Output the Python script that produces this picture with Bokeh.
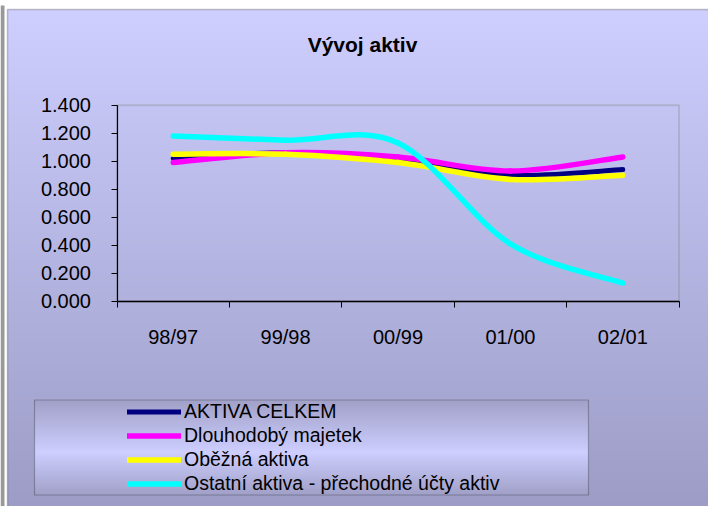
import numpy as np
from bokeh.plotting import figure
from bokeh.models import (Range1d, LinearAxis, FixedTicker, NumeralTickFormatter,
                          Legend, LegendItem, BoxAnnotation, Label)
from bokeh.embed import file_html
from bokeh.resources import INLINE

# ---------------- data ----------------
categories = ["98/97", "99/98", "00/99", "01/00", "02/01"]
series_names = ["AKTIVA CELKEM", "Dlouhodobý majetek", "Oběžná aktiva",
                "Ostatní aktiva - přechodné účty aktiv"]
aktiva_celkem = [1.02, 1.06, 1.01, 0.90, 0.94]
dlouhodoby_majetek = [0.99, 1.06, 1.03, 0.93, 1.03]
obezna_aktiva = [1.05, 1.05, 0.99, 0.87, 0.90]
ostatni_aktiva = [1.18, 1.15, 1.13, 0.41, 0.13]
y_ticks = [0.0, 0.2, 0.4, 0.6, 0.8, 1.0, 1.2, 1.4]
title_text = "Vývoj aktiv"

series_values = [aktiva_celkem, dlouhodoby_majetek, obezna_aktiva, ostatni_aktiva]
series_colors = ["#000080", "#FF00FF", "#FFFF00", "#00FFFF"]
series_widths = [5, 5.5, 5.5, 5.5]

# ---------------- layout (pixels) ----------------
W, H = 708, 506
PX_X = 112.4        # pixels per category
PX_Y = 140.0        # pixels per value unit
ORIGIN_X = 116.5    # px from left of category boundary 0
ORIGIN_Y = 300.7    # px from top of value 0

x_start = -ORIGIN_X / PX_X
x_end = x_start + W / PX_X
y_end = ORIGIN_Y / PX_Y
y_start = y_end - H / PX_Y


def fx(px):  # canvas x -> data x
    return x_start + px / PX_X


def fy(py):  # canvas y -> data y
    return y_end - py / PX_Y


p = figure(width=W, height=H, output_backend="svg", toolbar_location=None,
           x_range=Range1d(x_start, x_end), y_range=Range1d(y_start, y_end),
           x_axis_location=None, y_axis_location=None, min_border=0,
           outline_line_color=None, background_fill_color="white",
           border_fill_color="white")
p.xgrid.visible = False
p.ygrid.visible = False


def rgba_gradient(n, stops):
    """n rows (row 0 = bottom); stops: list of (t_from_top, (r,g,b))."""
    img = np.empty((n, 1), dtype=np.uint32)
    view = img.view(dtype=np.uint8).reshape((n, 1, 4))
    ts = np.array([s[0] for s in stops])
    cols = np.array([s[1] for s in stops], dtype=float)
    for r in range(n):
        t = 1.0 - r / (n - 1)
        for c in range(3):
            view[r, 0, c] = int(round(np.interp(t, ts, cols[:, c])))
        view[r, 0, 3] = 255
    return img


# chart-area background gradient
bg_left, bg_top = fx(7), fy(9)
bg = rgba_gradient(H - 9, [(0.0, (206, 206, 255)), (1.0, (156, 156, 198))])
p.image_rgba(image=[bg], x=bg_left, y=y_start, dw=x_end - bg_left,
             dh=bg_top - y_start, level="image")

# chart border (top / left) and sheet edge at the far left
p.add_layout(BoxAnnotation(left=bg_left, right=x_end + 1, bottom=y_start - 1, top=bg_top,
                           fill_color=None, line_color="#404040", line_width=1.5,
                           level="underlay"))
p.add_layout(BoxAnnotation(left=x_start, right=fx(4), bottom=y_start, top=fy(5),
                           fill_color="black", line_color=None, level="underlay"))

# plot area border
n_cat = len(categories)
p.add_layout(BoxAnnotation(left=0, right=n_cat, bottom=y_ticks[0], top=y_ticks[-1],
                           fill_color=None, line_color="#808080", line_width=2,
                           level="underlay"))


def smooth_segments(xs, ys):
    n = len(xs)
    P = [np.array([xs[i], ys[i]], dtype=float) for i in range(n)]
    seg = {k: [] for k in ["x0", "y0", "x1", "y1", "cx0", "cy0", "cx1", "cy1"]}
    for i in range(n - 1):
        p0 = P[max(i - 1, 0)]
        p1 = P[i]
        p2 = P[i + 1]
        p3 = P[min(i + 2, n - 1)]
        c1 = p1 + (p2 - p0) / 6.0
        c2 = p2 - (p3 - p1) / 6.0
        seg["x0"].append(p1[0]); seg["y0"].append(p1[1])
        seg["x1"].append(p2[0]); seg["y1"].append(p2[1])
        seg["cx0"].append(c1[0]); seg["cy0"].append(c1[1])
        seg["cx1"].append(c2[0]); seg["cy1"].append(c2[1])
    return seg


xs = [i + 0.5 for i in range(n_cat)]
renderers = []
for vals, col, lw in zip(series_values, series_colors, series_widths):
    s = smooth_segments(xs, vals)
    r = p.bezier(line_color=col, line_width=lw, line_cap="round", **s)
    renderers.append(r)

# y axis
yaxis = LinearAxis(fixed_location=0, bounds=(y_ticks[0], y_ticks[-1]),
                   ticker=FixedTicker(ticks=y_ticks, minor_ticks=[]),
                   formatter=NumeralTickFormatter(format="0.000"))
yaxis.axis_line_color = "black"
yaxis.axis_line_width = 1.2
yaxis.major_tick_in = 0
yaxis.major_tick_out = 6
yaxis.major_tick_line_color = "black"
yaxis.minor_tick_line_color = None
yaxis.major_label_text_font = "Liberation Sans"
yaxis.major_label_text_font_size = "20px"
yaxis.major_label_text_color = "black"
yaxis.major_label_standoff = 20
p.add_layout(yaxis, "left")

# x axis line with ticks between categories
xaxis = LinearAxis(fixed_location=y_ticks[0], bounds=(0, n_cat),
                   ticker=FixedTicker(ticks=list(range(n_cat + 1)), minor_ticks=[]))
xaxis.axis_line_color = "black"
xaxis.axis_line_width = 1.5
xaxis.major_tick_in = 0
xaxis.major_tick_out = 6
xaxis.major_tick_line_color = "black"
xaxis.minor_tick_line_color = None
xaxis.major_label_text_color = None
p.add_layout(xaxis, "below")

# x category labels
xlab = LinearAxis(fixed_location=y_ticks[0],
                  ticker=FixedTicker(ticks=xs, minor_ticks=[]))
xlab.major_label_overrides = {x: c for x, c in zip(xs, categories)}
xlab.axis_line_color = None
xlab.major_tick_line_color = None
xlab.minor_tick_line_color = None
xlab.major_tick_in = 0
xlab.major_tick_out = 0
xlab.major_label_text_font = "Liberation Sans"
xlab.major_label_text_font_size = "20px"
xlab.major_label_text_color = "black"
xlab.major_label_standoff = 25
p.add_layout(xlab, "below")

# title
p.add_layout(Label(x=fx(362), y=fy(44), text=title_text, text_align="center",
                   text_baseline="middle", text_font="Liberation Sans",
                   text_font_size="21px", text_font_style="bold", text_color="black"))

# legend box (gradient + border)
lg_left, lg_right, lg_top, lg_bot = fx(34), fx(588), fy(399.5), fy(494.5)
lg_h = 95
lgbg = rgba_gradient(lg_h, [(0.0, (160, 160, 200)), (0.55, (206, 206, 255)),
                            (1.0, (160, 160, 200))])
p.image_rgba(image=[lgbg], x=lg_left, y=lg_bot, dw=lg_right - lg_left,
             dh=lg_top - lg_bot, level="image")
p.add_layout(BoxAnnotation(left=lg_left, right=lg_right, bottom=lg_bot, top=lg_top,
                           fill_color=None, line_color="#202020", line_width=1.2,
                           level="underlay"))

legend = Legend(items=[LegendItem(label=n, renderers=[r])
                       for n, r in zip(series_names, renderers)],
                location=(127, 11), padding=0, margin=0,
                border_line_color=None, background_fill_alpha=0,
                glyph_width=54, glyph_height=19, label_height=19,
                label_standoff=3, spacing=1,
                label_text_font="Liberation Sans", label_text_font_size="19.5px",
                label_text_color="black")
p.add_layout(legend)

open("out.html", "w").write(file_html(p, INLINE))
